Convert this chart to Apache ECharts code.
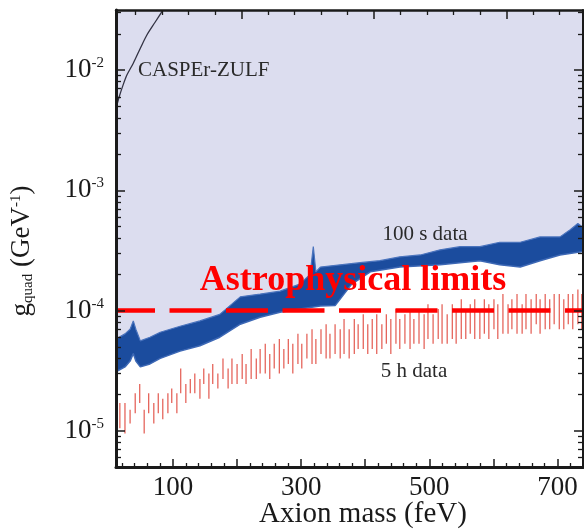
<!DOCTYPE html>
<html><head><meta charset="utf-8">
<script src="https://cdn.jsdelivr.net/npm/echarts@6/dist/echarts.min.js"></script>
<style>html,body{margin:0;padding:0;background:#fff}#c{width:584px;height:532px}</style>
</head><body><div id="c"></div>
<script>
// ---------- data ----------
const xMin = 11, xMax = 740;          // feV
const yMin = 5e-6, yMax = 3.16e-2;    // GeV^-1

const xMajorTicks = [100, 200, 300, 400, 500, 600, 700];
const xTickLabels = [100, 300, 500, 700];
const xMinorTicks = [20,40,60,80,120,140,160,180,220,240,260,280,320,340,360,380,420,440,460,480,520,540,560,580,620,640,660,680,720];
const HZ_TO_FEV = 4.1357;             // 1 Hz = 4.1357 feV
const topTicksHz = [10,20,30,40,60,70,80,90,110,120,130,140,160,170];
const topMajorHz = [50,100,150];

const yTickLabels = [1e-5, 1e-4, 1e-3, 1e-2];
const yMinorTicks = [6e-6,7e-6,8e-6,9e-6,
  2e-5,3e-5,4e-5,5e-5,6e-5,7e-5,8e-5,9e-5,
  2e-4,3e-4,4e-4,5e-4,6e-4,7e-4,8e-4,9e-4,
  2e-3,3e-3,4e-3,5e-3,6e-3,7e-3,8e-3,9e-3,
  2e-2,3e-2];

// 100 s data : band edges
const bandTopX = [11,25,33,38,42,49,64,80,111,142,173,205,236,267,298,314,319,323,330,361,392,423,454,486,517,548,579,610,642,673,704,720,732,740];
const bandTopY = [5.8e-5,6.4e-5,7.0e-5,8.2e-5,7.0e-5,5.6e-5,6.0e-5,6.6e-5,7.4e-5,8.2e-5,9.3e-5,1.3e-4,1.37e-4,1.45e-4,1.66e-4,2.0e-4,3.4e-4,2.1e-4,2.3e-4,2.4e-4,2.5e-4,2.6e-4,2.8e-4,2.9e-4,3.2e-4,3.4e-4,3.4e-4,3.7e-4,3.7e-4,4.1e-4,4.1e-4,4.7e-4,5.3e-4,4.9e-4];
const bandBottomX = [11,25,33,38,42,49,64,80,111,142,173,205,236,267,298,330,353,379,408,454,517,579,610,642,673,704,740];
const bandBottomY = [3.1e-5,3.4e-5,3.8e-5,4.4e-5,3.8e-5,3.4e-5,3.6e-5,4.0e-5,4.6e-5,5.1e-5,6.0e-5,7.7e-5,8.8e-5,9.7e-5,1.03e-4,1.09e-4,1.1e-4,1.66e-4,2.1e-4,2.3e-4,2.4e-4,2.6e-4,2.4e-4,2.3e-4,2.6e-4,2.9e-4,3.1e-4];

// 5 h data : spikes
const spikeX = [17,25,33,41,48,55,62,70,77,84, 92,98,106,112,120,127,134,142,148,156,
  162,170,178,186,192,200,208,214,222,230, 236,244,251,258,266,273,280,287,295,301,
  309,317,323,331,339,345,353,361,367,375, 383,389,397,404,411,418,426,433,440,448,
  454,462,470,476,484,492,498,506,514,520, 528,536,542,550,557,564,571,579,586,593,
  601,607,615,623,629,637,645,651,659,667, 673,681,688,695,703,710,717,724,732,738];
const spikeHigh = [1.7e-5,1.7e-5,1.5e-5,2.05e-5,2.45e-5,1.5e-5,2.05e-5,1.7e-5,2.05e-5,1.85e-5,
  2.05e-5,2.25e-5,2.05e-5,3.3e-5,2.45e-5,2.7e-5,3.0e-5,2.7e-5,3.3e-5,3.0e-5,
  3.6e-5,3.0e-5,4.0e-5,3.3e-5,4.0e-5,3.6e-5,4.35e-5,3.6e-5,4.8e-5,4.0e-5,
  4.8e-5,5.3e-5,4.35e-5,5.3e-5,5.8e-5,4.8e-5,5.8e-5,5.3e-5,6.4e-5,5.3e-5,
  6.4e-5,7.0e-5,5.8e-5,7.0e-5,7.7e-5,6.4e-5,7.7e-5,7.0e-5,8.5e-5,7.0e-5,
  8.5e-5,7.7e-5,9.3e-5,7.7e-5,8.5e-5,9.3e-5,7.7e-5,9.3e-5,8.5e-5,1.03e-4,
  8.5e-5,9.3e-5,1.03e-4,8.5e-5,1.03e-4,9.3e-5,1.13e-4,9.3e-5,1.03e-4,1.13e-4,
  9.3e-5,1.13e-4,1.03e-4,1.24e-4,1.03e-4,1.13e-4,1.24e-4,1.03e-4,1.24e-4,1.13e-4,
  1.24e-4,1.13e-4,1.37e-4,1.13e-4,1.24e-4,1.37e-4,1.13e-4,1.37e-4,1.24e-4,1.37e-4,
  1.24e-4,1.37e-4,1.24e-4,1.37e-4,1.37e-4,1.24e-4,1.37e-4,1.37e-4,1.5e-4,1.37e-4];
const spikeLow = [1.05e-5,9.5e-6,1.15e-5,1.4e-5,1.7e-5,9.5e-6,1.4e-5,1.15e-5,1.4e-5,1.25e-5,
  1.4e-5,1.7e-5,1.4e-5,2.05e-5,1.7e-5,2.05e-5,2.05e-5,1.85e-5,2.45e-5,1.85e-5,
  2.45e-5,2.25e-5,2.7e-5,2.25e-5,2.45e-5,2.45e-5,2.7e-5,2.45e-5,2.7e-5,2.7e-5,
  3.0e-5,3.0e-5,2.7e-5,3.3e-5,3.0e-5,3.3e-5,3.6e-5,3.0e-5,3.6e-5,3.3e-5,
  4.0e-5,3.6e-5,3.6e-5,4.35e-5,4.0e-5,4.0e-5,4.35e-5,4.0e-5,4.35e-5,4.0e-5,
  4.35e-5,4.8e-5,4.8e-5,4.35e-5,4.8e-5,4.35e-5,4.8e-5,5.3e-5,4.35e-5,5.3e-5,
  4.8e-5,5.3e-5,4.8e-5,5.3e-5,5.3e-5,4.8e-5,5.8e-5,5.3e-5,5.8e-5,5.3e-5,
  5.3e-5,5.8e-5,5.3e-5,5.8e-5,5.8e-5,6.4e-5,5.8e-5,5.8e-5,6.4e-5,5.8e-5,
  7.0e-5,5.8e-5,6.4e-5,6.4e-5,7.0e-5,6.4e-5,6.4e-5,7.0e-5,6.4e-5,7.7e-5,
  6.4e-5,7.0e-5,7.0e-5,7.7e-5,7.0e-5,7.0e-5,7.7e-5,7.0e-5,7.7e-5,7.0e-5];

// CASPEr-ZULF curve
const casperX = [11,16,22,28,38,49,59,72,84];
const casperY = [4.8e-3,6.0e-3,7.5e-3,9.1e-3,1.14e-2,1.52e-2,1.95e-2,2.5e-2,3.14e-2];

const astroLimit = 1e-4;

// ---------- build ----------
const zip = (xs, ys) => xs.map((x, i) => [x, ys[i]]);
const spikeData = [];
spikeX.forEach((x, i) => { spikeData.push([x, spikeLow[i]], [x, spikeHigh[i]], [x, '-']); });

const SERIF = '"Liberation Serif", "Times New Roman", serif';
const INK = '#1a1a1a';

function xAx(pos, ticks, len, line, lineW, labels) {
  return {type: 'value', min: xMin, max: xMax, position: pos, z: 10,
    axisLine: {show: line, lineStyle: {color: INK, width: lineW}},
    axisTick: {show: true, inside: true, length: len, customValues: ticks, lineStyle: {color: INK, width: len > 6 ? 1.5 : 1.3}},
    axisLabel: labels ? {customValues: labels, fontFamily: SERIF, fontSize: 27, color: INK, margin: 7} : {show: false},
    splitLine: {show: false}};
}
function yAx(pos, ticks, len, line, lineW) {
  return {type: 'log', min: yMin, max: yMax, position: pos, z: 10,
    axisLine: {show: line, lineStyle: {color: INK, width: lineW}},
    axisTick: {show: true, inside: true, length: len, customValues: ticks, lineStyle: {color: INK, width: len > 6 ? 1.5 : 1.3}},
    axisLabel: {show: false},
    splitLine: {show: false}};
}

const chart = echarts.init(document.getElementById('c'), null, {renderer: 'canvas'});
chart.setOption({
  animation: false,
  backgroundColor: '#ffffff',
  grid: {left: 116, right: 1, top: 10, bottom: 65, containLabel: false},
  xAxis: [
    xAx('bottom', xMajorTicks, 8, true, 3, xTickLabels),
    xAx('bottom', xMinorTicks, 4, false, 0, null),
    xAx('top', topTicksHz.map(h => h * HZ_TO_FEV), 5, true, 2.5, null),
    xAx('top', topMajorHz.map(h => h * HZ_TO_FEV), 9, false, 0, null)
  ],
  yAxis: [
    yAx('left', yTickLabels, 9, true, 3),
    yAx('left', yMinorTicks, 5, false, 0),
    yAx('right', yTickLabels, 9, true, 2),
    yAx('right', yMinorTicks, 5, false, 0)
  ],
  series: [
    {name: '100 s data band', type: 'line', data: zip(bandBottomX, bandBottomY), symbol: 'none', silent: true, z: 2,
     lineStyle: {color: '#3d68b5', width: 1.5},
     areaStyle: {origin: 'end', color: '#1b4c9e', opacity: 1}},
    {name: 'excluded', type: 'line', data: zip(bandTopX, bandTopY), symbol: 'none', silent: true, z: 3,
     lineStyle: {color: '#4a73bd', width: 1.2},
     areaStyle: {origin: 'end', color: '#dcddef', opacity: 1}},
    {name: '5 h data', type: 'line', data: spikeData, symbol: 'none', silent: true, z: 4, connectNulls: false,
     lineStyle: {color: '#e2544a', width: 1.3, opacity: 0.9}},
    {name: 'CASPEr-ZULF', type: 'line', data: zip(casperX, casperY), symbol: 'none', smooth: 0.3, silent: true, z: 5,
     lineStyle: {color: '#333344', width: 1.3}},
    {name: 'Astrophysical limits', type: 'line', data: [[xMin, astroLimit], [xMax, astroLimit]], symbol: 'none', silent: true, z: 6,
     lineStyle: {color: '#ff0000', width: 4.5, type: [42, 14.5], dashOffset: 3}}
  ]
});

// y tick labels placed through the y axis scale
const yLabelGraphics = yTickLabels.map(v => ({
  type: 'text', z: 100, x: 104, y: chart.convertToPixel({yAxisIndex: 0}, v),
  style: {text: '{b|10}{s|' + Math.round(Math.log10(v)) + '}', align: 'right', verticalAlign: 'middle',
    rich: {b: {fontFamily: SERIF, fontSize: 27, fill: INK},
           s: {fontFamily: SERIF, fontSize: 15, fill: INK, padding: [0, 0, 14, 0]}}}
}));

chart.setOption({graphic: yLabelGraphics.concat([
  {type: 'text', z: 100, x: 353, y: 281, style: {text: 'Astrophysical limits', align: 'center', verticalAlign: 'middle',
    font: 'bold 36px ' + SERIF, fill: '#ff0000'}},
  {type: 'text', z: 100, x: 425, y: 234, style: {text: '100 s data', align: 'center', verticalAlign: 'middle',
    font: '21px ' + SERIF, fill: '#2a2a2a'}},
  {type: 'text', z: 100, x: 414, y: 371, style: {text: '5 h data', align: 'center', verticalAlign: 'middle',
    font: '21px ' + SERIF, fill: '#2a2a2a'}},
  {type: 'text', z: 100, x: 138, y: 70, style: {text: 'CASPEr-ZULF', align: 'left', verticalAlign: 'middle',
    font: '21px ' + SERIF, fill: '#2a2a2a'}},
  {type: 'text', z: 100, x: 363, y: 514, style: {text: 'Axion mass (feV)', align: 'center', verticalAlign: 'middle',
    font: '29px ' + SERIF, fill: INK}},
  {type: 'text', z: 100, x: 22, y: 251, rotation: Math.PI / 2,
   style: {text: '{g|g}{sub|quad}{g| (GeV}{sup|-1}{g|)}', align: 'center', verticalAlign: 'middle',
     rich: {g: {fontFamily: SERIF, fontSize: 27, fill: INK},
            sub: {fontFamily: SERIF, fontSize: 15, fill: INK, padding: [12, 0, 0, 0]},
            sup: {fontFamily: SERIF, fontSize: 15, fill: INK, padding: [0, 0, 12, 0]}}}}
])});
</script></body></html>
